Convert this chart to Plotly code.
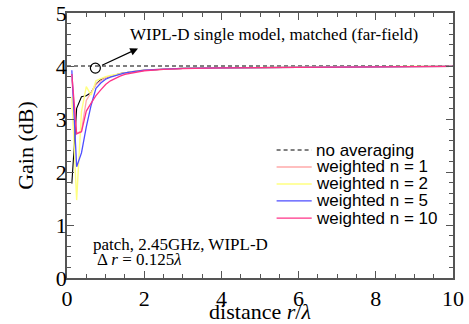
import plotly.graph_objects as go

# distance r/lambda samples
r = [0.125, 0.25, 0.375, 0.5, 0.625, 0.75, 0.875, 1.0, 1.125, 1.25, 1.375, 1.5,
     1.75, 2.0, 2.5, 3.0, 4.0, 5.0, 6.0, 7.0, 8.0, 9.0, 10.0]

no_avg = [1.78, 3.2, 3.42, 3.44, 3.50, 3.66, 3.74, 3.78, 3.81, 3.83, 3.86, 3.87,
          3.90, 3.92, 3.94, 3.955, 3.965, 3.972, 3.978, 3.983, 3.987, 3.99, 3.993]
w_n1 = [3.75, 2.72, 2.78, 3.35, 3.50, 3.65, 3.72, 3.78, 3.81, 3.83, 3.86, 3.87,
        3.90, 3.92, 3.94, 3.955, 3.965, 3.972, 3.978, 3.983, 3.987, 3.99, 3.993]
w_n2 = [3.42, 1.47, 3.14, 3.61, 3.45, 3.72, 3.76, 3.80, 3.82, 3.84, 3.86, 3.87,
        3.90, 3.92, 3.94, 3.955, 3.965, 3.972, 3.978, 3.983, 3.987, 3.99, 3.993]
w_n5 = [3.92, 2.10, 2.36, 2.85, 3.26, 3.58, 3.68, 3.75, 3.79, 3.82, 3.85, 3.87,
        3.90, 3.92, 3.94, 3.955, 3.965, 3.972, 3.978, 3.983, 3.987, 3.99, 3.993]
w_n10 = [3.85, 2.72, 2.76, 3.15, 3.30, 3.44, 3.55, 3.65, 3.72, 3.77, 3.81, 3.84,
         3.88, 3.91, 3.935, 3.95, 3.963, 3.971, 3.977, 3.982, 3.986, 3.99, 3.993]

far_x = [0, 10]
far_y = [4.0, 4.0]

legend_labels = ["no averaging", "weighted n = 1", "weighted n = 2",
                 "weighted n = 5", "weighted n = 10"]
colors = ["black", "#ffaaaa", "#ffff80", "#4d4dff", "#ff3388"]
dashes = ["4px,3px", "solid", "solid", "solid", "solid"]

SERIF = "Times New Roman"
SANS = "Liberation Sans"

fig = go.Figure()
fig.add_trace(go.Scatter(x=far_x, y=far_y, mode="lines",
                         line=dict(color="black", width=1, dash="4px,3px"),
                         showlegend=False))
fig.add_trace(go.Scatter(x=r, y=no_avg, mode="lines",
                         line=dict(color="black", width=1.1), showlegend=False))
fig.add_trace(go.Scatter(x=r, y=w_n1, mode="lines",
                         line=dict(color=colors[1], width=1.3), showlegend=False))
fig.add_trace(go.Scatter(x=r, y=w_n2, mode="lines",
                         line=dict(color=colors[2], width=1.4), showlegend=False))
fig.add_trace(go.Scatter(x=r, y=w_n5, mode="lines",
                         line=dict(color=colors[3], width=1.3), showlegend=False))
fig.add_trace(go.Scatter(x=r, y=w_n10, mode="lines",
                         line=dict(color=colors[4], width=1.3), showlegend=False))

tickfont = dict(family=SERIF, size=22, color="black")

xaxis = dict(
    range=[0, 10], dtick=2, tick0=0, tickmode="linear",
    showgrid=False, zeroline=False, showline=True, linecolor="#555555",
    linewidth=1.5, mirror="ticks", ticks="inside", ticklen=7, tickwidth=1,
    tickcolor="#555555", tickfont=tickfont,
    minor=dict(dtick=0.5, ticks="inside", ticklen=4, tickcolor="#555555"),
    title=dict(text="distance <i>r</i>/<i>λ</i>",
               font=dict(family=SERIF, size=22, color="black"), standoff=0),
)
yaxis = dict(
    range=[0, 5], dtick=1, tick0=0, tickmode="linear",
    showgrid=False, zeroline=False, showline=True, linecolor="#555555",
    linewidth=1.5, mirror="ticks", ticks="inside", ticklen=7, tickwidth=1,
    tickcolor="#555555", tickfont=tickfont, ticklabelstandoff=-6,
    minor=dict(dtick=0.2, ticks="inside", ticklen=4, tickcolor="#555555"),
    title=dict(text="Gain (dB)",
               font=dict(family=SERIF, size=22, color="black"), standoff=16),
)

annotations = []
shapes = []
# manual legend
leg_y = [0.483, 0.419, 0.355, 0.291, 0.226]
for lab, col, dsh, yy in zip(legend_labels, colors, dashes, leg_y):
    shapes.append(dict(type="line", xref="paper", yref="paper",
                       x0=0.543, x1=0.634, y0=yy, y1=yy,
                       line=dict(color=col, width=1.4 if dsh == "solid" else 1,
                                 dash=dsh)))
    annotations.append(dict(xref="paper", yref="paper", x=0.64, y=yy,
                            xanchor="left", yanchor="middle", showarrow=False,
                            text=lab, font=dict(family=SANS, size=17, color="black")))

annotations.append(dict(xref="paper", yref="paper", x=0.062, y=0.128,
                        xanchor="left", yanchor="middle", showarrow=False,
                        text="patch, 2.45GHz, WIPL-D",
                        font=dict(family=SERIF, size=17, color="black")))
annotations.append(dict(xref="paper", yref="paper", x=0.072, y=0.07,
                        xanchor="left", yanchor="middle", showarrow=False,
                        text="Δ <i>r</i> = 0.125<i>λ</i>",
                        font=dict(family=SERIF, size=17, color="black")))
annotations.append(dict(xref="paper", yref="paper", x=0.158, y=0.917,
                        xanchor="left", yanchor="middle", showarrow=False,
                        text="WIPL-D single model, matched (far-field)",
                        font=dict(family=SERIF, size=17, color="black")))
# arrow
annotations.append(dict(x=1.84, y=4.33, ax=0.87, ay=4.0, xref="x", yref="y",
                        axref="x", ayref="y", text="", showarrow=True,
                        arrowhead=2, arrowsize=1.3, arrowwidth=1.2,
                        arrowcolor="black", standoff=0, startstandoff=0))
shapes.append(dict(type="circle", xref="x", yref="y", xsizemode="pixel",
                   ysizemode="pixel", xanchor=0.735, yanchor=3.96,
                   x0=-5, x1=5, y0=-5, y1=5,
                   line=dict(color="black", width=1.2)))

fig.update_layout(
    width=469, height=324,
    margin=dict(l=67, r=16, t=13, b=46, autoexpand=False),
    paper_bgcolor="white", plot_bgcolor="white",
    font=dict(family=SERIF, color="black"),
    showlegend=False,
    xaxis=xaxis, yaxis=yaxis,
    annotations=annotations, shapes=shapes,
)

fig.write_html("out.html", config={"displayModeBar": False},
               post_script="document.body.style.margin='0';document.body.style.overflow='hidden';")
